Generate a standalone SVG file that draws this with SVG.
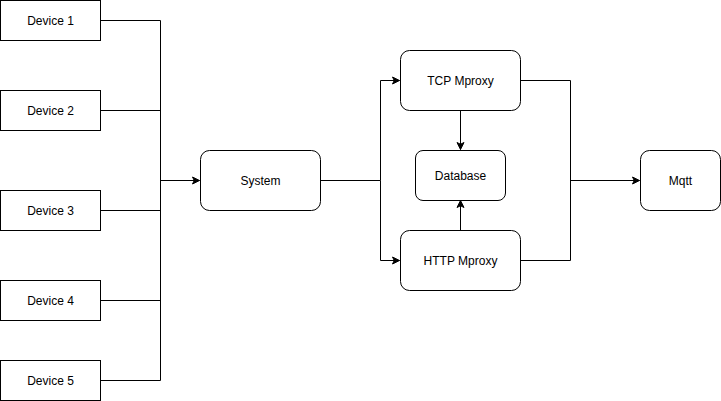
<svg xmlns="http://www.w3.org/2000/svg" width="721" height="401" viewBox="0 0 721 401">
<defs>
<marker id="arr" markerUnits="userSpaceOnUse" markerWidth="10" markerHeight="10" viewBox="-8 -5 10 10" refX="0" refY="0" orient="auto">
<path d="M0,0 L-7,-3.5 L-5.25,0 L-7,3.5 Z" fill="#000" stroke="#000" stroke-width="1"/>
</marker>
<style>
.box{fill:#fff;stroke:#000;stroke-width:1}
.t{font-family:"Liberation Sans",Arial,sans-serif;font-size:12px;fill:#000;text-anchor:middle;dominant-baseline:central}
.c{fill:none;stroke:#000;stroke-width:1}
</style>
</defs>
<rect width="721" height="401" fill="#fff"/>
<g id="connectors">
<path class="c" d="M100.5,20.5 H160.5 V380.5 H100.5"/>
<path class="c" d="M100.5,110.5 H160.5"/>
<path class="c" d="M100.5,210.5 H160.5"/>
<path class="c" d="M100.5,300.5 H160.5"/>
<path class="c" d="M160.5,180.5 H199.5" marker-end="url(#arr)"/>
<path class="c" d="M320.5,180.5 H380.5"/>
<path class="c" d="M380.5,180.5 V80.5 H399.5" marker-end="url(#arr)"/>
<path class="c" d="M380.5,180.5 V260.5 H399.5" marker-end="url(#arr)"/>
<path class="c" d="M460.5,110.5 V149.5" marker-end="url(#arr)"/>
<path class="c" d="M460.5,230.5 V200.5" marker-end="url(#arr)"/>
<path class="c" d="M520.5,80.5 H570.5 V260.5 H520.5"/>
<path class="c" d="M570.5,180.5 H639.5" marker-end="url(#arr)"/>
</g>
<g id="device1"><rect class="box" x="0.5" y="0.5" width="100" height="40"/><text class="t" x="50.5" y="20.5">Device 1</text></g>
<g id="device2"><rect class="box" x="0.5" y="90.5" width="100" height="40"/><text class="t" x="50.5" y="110.5">Device 2</text></g>
<g id="device3"><rect class="box" x="0.5" y="190.5" width="100" height="40"/><text class="t" x="50.5" y="210.5">Device 3</text></g>
<g id="device4"><rect class="box" x="0.5" y="280.5" width="100" height="40"/><text class="t" x="50.5" y="300.5">Device 4</text></g>
<g id="device5"><rect class="box" x="0.5" y="360.5" width="100" height="40"/><text class="t" x="50.5" y="380.5">Device 5</text></g>
<g id="system"><rect class="box" x="200.5" y="150.5" width="120" height="60" rx="9"/><text class="t" x="260.5" y="180.5">System</text></g>
<g id="tcp"><rect class="box" x="400.5" y="50.5" width="120" height="60" rx="9"/><text class="t" x="460.5" y="80.5">TCP Mproxy</text></g>
<g id="database"><rect class="box" x="415.5" y="150.5" width="90" height="50" rx="7.5"/><text class="t" x="460.5" y="175.5">Database</text></g>
<g id="http"><rect class="box" x="400.5" y="230.5" width="120" height="60" rx="9"/><text class="t" x="460.5" y="260.5">HTTP Mproxy</text></g>
<g id="mqtt"><rect class="box" x="640.5" y="150.5" width="80" height="60" rx="9"/><text class="t" x="680.5" y="180.5">Mqtt</text></g>
</svg>
